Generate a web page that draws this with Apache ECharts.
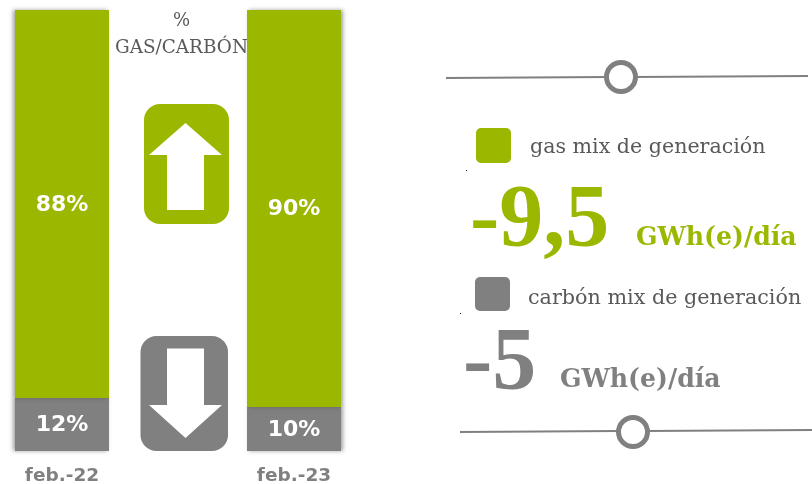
<!DOCTYPE html>
<html>
<head>
<meta charset="utf-8">
<style>
  html, body { margin: 0; padding: 0; background: #fff; }
  #chartWrapper { width: 812px; height: 484px; }
</style>
<script src="https://cdn.jsdelivr.net/npm/echarts@6/dist/echarts.min.js"></script>
</head>
<body>
<div id="chartWrapper"></div>
<script>
const categories = ['feb.-22', 'feb.-23'];
const gasValues = [88, 90];
const carbonValues = [12, 10];

const GREEN = '#9cb700';
const GRAY = '#808080';
const TEXT = '#595959';
const SERIF = '"DejaVu Serif", serif';
const BIG_SERIF = '"Liberation Serif", serif';
const SANS = '"DejaVu Sans", sans-serif';

let myChart = echarts.init(document.getElementById('chartWrapper'), null, { renderer: 'canvas' });

// bar 1 throws its shadow left, bar 2 right
function withShadow(values, color) {
    return values.map(function (v, i) {
        return {
            value: v,
            itemStyle: {
                color: color,
                shadowColor: 'rgba(70,70,70,0.5)',
                shadowBlur: 4,
                shadowOffsetX: i === 0 ? -2 : 2
            }
        };
    });
}

function barSeries(name, values, color) {
    return {
        name: name,
        type: 'bar',
        stack: 'mix',
        barWidth: 94,
        label: {
            show: true,
            position: 'inside',
            offset: [0, 1],
            formatter: '{c}%',
            color: '#fff',
            fontFamily: SANS,
            fontWeight: 'bold',
            fontSize: 22
        },
        data: withShadow(values, color)
    };
}

function text(x, y, str, size, color, weight, align, family) {
    return {
        type: 'text',
        x: x,
        y: y,
        style: {
            text: str,
            fill: color,
            fontFamily: family || SERIF,
            fontSize: size,
            fontWeight: weight || 'normal',
            align: align || 'left',
            verticalAlign: 'middle'
        }
    };
}

function box(x, y, w, h, r, color) {
    return { type: 'rect', shape: { x: x, y: y, width: w, height: h, r: r }, style: { fill: color } };
}

function arrow(points) {
    return { type: 'polygon', shape: { points: points }, style: { fill: '#fff' } };
}

function rule(x1, y1, x2, y2) {
    return { type: 'line', shape: { x1: x1, y1: y1, x2: x2, y2: y2 }, style: { stroke: GRAY, lineWidth: 2 } };
}

function ring(cx, cy) {
    return { type: 'circle', shape: { cx: cx, cy: cy, r: 14.5 }, style: { fill: '#fff', stroke: GRAY, lineWidth: 5 } };
}

let option = {
    animation: false,
    grid: { left: 62, top: 10, width: 232, height: 441, outerBoundsMode: 'none' },
    xAxis: {
        type: 'category',
        boundaryGap: false,
        data: categories,
        axisLine: { show: false },
        axisTick: { show: false },
        axisLabel: { color: GRAY, fontFamily: SANS, fontWeight: 'bold', fontSize: 18.5, margin: 16 }
    },
    yAxis: { type: 'value', min: 0, max: 100, show: false },
    series: [
        barSeries('carbón', carbonValues, GRAY),
        barSeries('gas', gasValues, GREEN)
    ],
    graphic: [
        text(181.5, 21, '%', 18, TEXT, 'normal', 'center'),
        text(181.5, 48, 'GAS/CARBÓN', 18.4, TEXT, 'normal', 'center'),

        box(144, 104, 85, 120, 16, GREEN),
        arrow([[185.5, 123], [222, 155], [204, 155], [204, 210], [167, 210], [167, 155], [149, 155]]),
        box(140.5, 336, 87.5, 115, 16, GRAY),
        arrow([[167, 348.5], [204, 348.5], [204, 405], [222, 405], [185.5, 438], [149, 405], [167, 405]]),

        rule(446, 78, 608, 77),
        rule(634, 77, 808, 76),
        ring(621, 77),
        rule(460, 432, 620, 431),
        rule(646, 431, 812, 430),
        ring(633, 432),

        box(476, 128, 35, 35, 5, GREEN),
        box(475, 277, 35, 34, 5, GRAY),
        box(466, 170, 1, 1, 0, '#222'),
        box(460, 313, 1, 1, 0, '#222'),

        text(530, 148, 'gas mix de generación', 20.6, TEXT),
        text(528, 299, 'carbón mix de generación', 20.7, TEXT),
        text(470, 222, '-9,5', 88, GREEN, 'bold', 'left', BIG_SERIF),
        text(636, 238, 'GWh(e)/día', 25.2, GREEN, 'bold'),
        text(463, 365, '-5', 88, GRAY, 'bold', 'left', BIG_SERIF),
        text(560, 380, 'GWh(e)/día', 25.2, GRAY, 'bold')
    ]
};

myChart.setOption(option);
</script>
</body>
</html>
